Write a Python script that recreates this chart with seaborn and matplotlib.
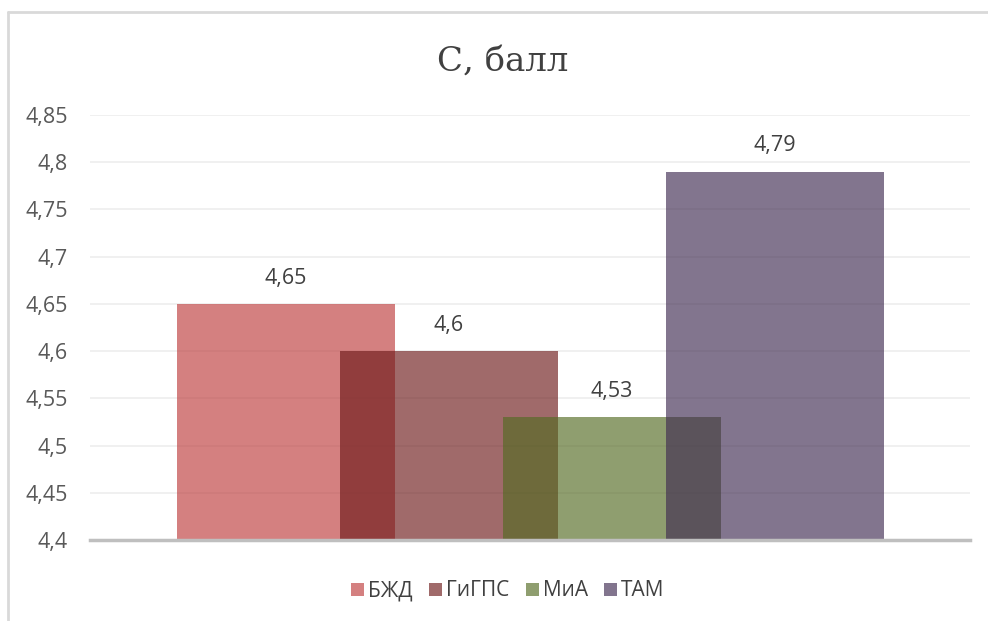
import pandas as pd
import matplotlib
matplotlib.use("Agg")
import matplotlib.pyplot as plt
import seaborn as sb
from matplotlib.ticker import FuncFormatter
from matplotlib.lines import Line2D

# DATA
#----------------------------------------------------
subjects = ["БЖД", "ГиГПС", "МиА", "ТАМ"]
scores = [4.65, 4.6, 4.53, 4.79]
bar_colors = ["#bd3c3c", "#6d1a1a", "#536a22", "#402b51"]
title_text = "С, балл"
y_ticks = [4.4, 4.45, 4.5, 4.55, 4.6, 4.65, 4.7, 4.75, 4.8, 4.85]

def comma(v):
    s = f"{v:.2f}".rstrip("0").rstrip(".")
    return s.replace(".", ",")

# PLOT
#----------------------------------------------------
def main():
    sb.set_style("white")
    plt.rcParams["font.family"] = ["Open Sans", "DejaVu Sans"]

    df = pd.DataFrame({"subject": subjects, "score": scores})

    fig = plt.figure(figsize=(9.88, 6.21), dpi=100)
    ax = fig.add_axes([90/988, 1-540/621, 880/988, 425/621])

    sb.barplot(data=df, x="subject", y="score", hue="subject", order=subjects,
               hue_order=subjects, palette=bar_colors, width=218/163,
               alpha=0.65, dodge=False, legend=False, ax=ax, linewidth=0,
               saturation=1)

    ax.set_ylim(4.4, 4.85)
    ax.set_xlim(-1.202, 4.196)
    ax.set_yticks(y_ticks)
    ax.yaxis.set_major_formatter(FuncFormatter(lambda v, p: comma(v)))
    ax.tick_params(axis="y", labelsize=15.5, labelcolor="#595959", length=0, pad=16)
    ax.set_xticks([])
    ax.set_xlabel("")
    ax.set_ylabel("")
    ax.grid(axis="y", color="#efefef", linewidth=1.3)
    ax.set_axisbelow(True)
    for side in ["top", "right", "left"]:
        ax.spines[side].set_visible(False)
    ax.spines["bottom"].set_color("#bfbfbf")
    ax.spines["bottom"].set_linewidth(2.5)

    for cont in ax.containers:
        ax.bar_label(cont, labels=[comma(b.get_height()) for b in cont],
                     padding=11, fontsize=15.5, color="#404040")

    fig.text(503/988, 1-62/621, title_text, ha="center", va="center",
             fontsize=24.5, color="#404040", family=["DejaVu Serif"])

    handles = [plt.Rectangle((0, 0), 1, 1, color=c, alpha=0.65, linewidth=0)
               for c in bar_colors]
    fig.legend(handles, subjects, loc="center", bbox_to_anchor=(508/988, 1-591/621),
               ncol=4, frameon=False, fontsize=15, handlelength=0.6,
               handleheight=0.6, handletextpad=0.2, columnspacing=0.8,
               labelcolor="#404040")

    # chart border (left and top)
    fig.add_artist(Line2D([8/988, 8/988], [0, 1-12/621], color="#d9d9d9",
                          linewidth=2, transform=fig.transFigure))
    fig.add_artist(Line2D([8/988, 1], [1-12/621, 1-12/621], color="#d9d9d9",
                          linewidth=2, transform=fig.transFigure))

    fig.savefig("out.png", dpi=100)

if __name__ == "__main__":
    main()
